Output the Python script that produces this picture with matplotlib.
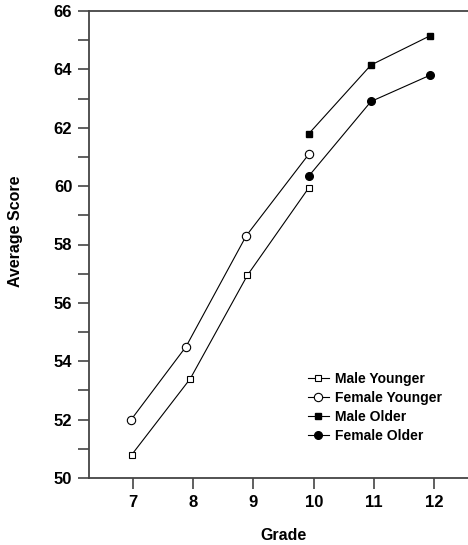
import numpy as np
import matplotlib
matplotlib.use('Agg')
import matplotlib.pyplot as plt
from matplotlib.ticker import MultipleLocator

plt.rcParams['font.family'] = ['Liberation Sans', 'DejaVu Sans']

# data (points sit slightly left of the grade ticks)
my_grade = [6.98, 7.95, 8.9, 9.92]
my_score = [50.8, 53.4, 56.95, 59.95]

fy_grade = [6.97, 7.88, 8.88, 9.92]
fy_score = [52.0, 54.5, 58.3, 61.1]

mo_grade = [9.92, 10.95, 11.93]
mo_score = [61.8, 64.15, 65.15]

fo_grade = [9.92, 10.95, 11.93]
fo_score = [60.35, 62.9, 63.8]

grade_ticks = [7, 8, 9, 10, 11, 12]

fig = plt.figure(figsize=(4.68, 5.45), dpi=100)
ax = fig.add_axes([89/468, 1 - 478/545, 1 - 89/468, (478 - 11)/545])

lw = 0.8
ax.plot(my_grade, my_score, c='black', lw=lw, marker='s', ms=5, mfc='white', mec='black', mew=0.8, label='Male Younger')
ax.plot(fy_grade, fy_score, c='black', lw=lw, marker='o', ms=6, mfc='white', mec='black', mew=0.8, label='Female Younger')
ax.plot(mo_grade, mo_score, c='black', lw=lw, marker='s', ms=5, mfc='black', mec='black', label='Male Older')
ax.plot(fo_grade, fo_score, c='black', lw=lw, marker='o', ms=5.5, mfc='black', mec='black', label='Female Older')

ax.set_xlim(6.27, 12.56)
ax.set_ylim(50, 66)
ax.set_xticks(grade_ticks)
ax.yaxis.set_major_locator(MultipleLocator(2))
ax.yaxis.set_minor_locator(MultipleLocator(1))

spine_c = '#444444'
ax.spines['right'].set_visible(False)
for s in ['left', 'bottom', 'top']:
    ax.spines[s].set_color(spine_c)
    ax.spines[s].set_linewidth(1.3)

ax.tick_params(axis='both', which='both', direction='out', color=spine_c, width=1.2, length=8)
ax.tick_params(axis='x', which='both', top=False)
ax.tick_params(labelsize=12, pad=4)
for lab in ax.get_xticklabels() + ax.get_yticklabels():
    lab.set_fontweight('bold')

ax.set_xlabel('Grade', fontsize=11.5, fontweight='bold')
ax.set_ylabel('Average Score', fontsize=11.5, fontweight='bold')
ax.xaxis.set_label_coords(0.512, -0.107)
ax.yaxis.set_label_coords(-0.175, 0.529)

leg = ax.legend(loc='upper left', bbox_to_anchor=(308/468, 1 - 372/545),
                bbox_transform=fig.transFigure, frameon=False,
                prop={'size': 10, 'weight': 'bold'}, handlelength=1.5,
                handletextpad=0.45, labelspacing=0.35, borderpad=0, borderaxespad=0)

fig.savefig('out.png', dpi=100)
